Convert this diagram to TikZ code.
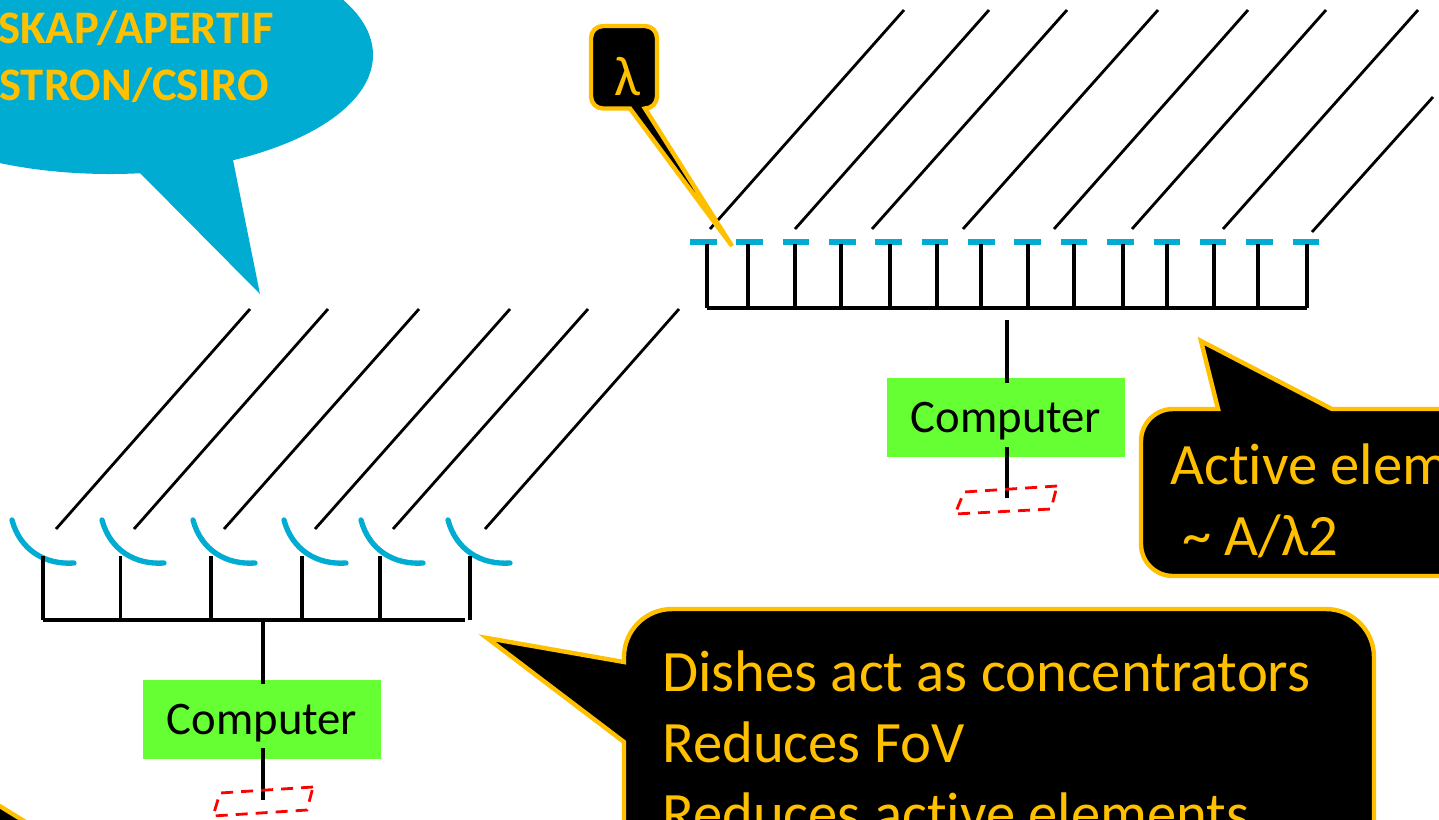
\documentclass[tikz,border=0pt]{standalone}
\usepackage{fontspec}
\setmainfont{Carlito}[Ligatures={NoCommon,TeX}]
\definecolor{gold}{RGB}{255,192,0}
\definecolor{dishblue}{RGB}{0,172,210}
\definecolor{compgreen}{RGB}{102,255,51}
\tikzset{
  wire/.style={black,line width=2.5pt},
  wave/.style={black,line width=2.1pt},
  dishline/.style={dishblue,line width=4pt,line cap=round},
  element/.style={dishblue,line width=4.4pt},
  computer/.style={fill=compgreen,minimum width=178.5pt,minimum height=59.25pt,inner sep=0pt,text height=23.2pt,text depth=0pt,font=\fontsize{35}{35}\selectfont},
  dashbox/.style={red,line width=2.1pt,dash pattern=on 9pt off 6pt},
  callout/.style={fill=black,draw=gold,line width=3.3pt,line join=miter},
  calltext/.style={text=gold,anchor=base west,inner sep=0pt,font=\fontsize{44}{44}\selectfont},
  bubbletext/.style={text=gold,anchor=base west,inner sep=0pt,font=\fontsize{35}{35}\selectfont\bfseries}
}
\begin{document}
\begin{tikzpicture}[x=0.75pt,y=-0.75pt]
\useasboundingbox (0,0) rectangle (1439,819);
\clip (0,0) rectangle (1439,819);
% blue speech bubble
\fill[dishblue] (110,55) ellipse [x radius=197.25pt,y radius=89.25pt];
\fill[dishblue] (140,173) -- (260,294) -- (233,160) -- cycle;
\node[bubbletext] (b1) at (-2,43) {SKAP/APERTIF};
\node[bubbletext] (b2) at (-1,100) {STRON/CSIRO};
% wavefronts, upper right
\foreach \t/\b [count=\i] in {904/710,989/795,1067/872,1158/963,1248/1054,1326/1132,1418/1223}{
  \coordinate (wt\i) at (\t,10);
  \coordinate (wb\i) at (\b,229);
  \draw[wave] (wt\i) -- (wb\i);
}
\coordinate (wt8) at (1433,97);
\coordinate (wb8) at (1312,232);
\draw[wave] (wt8) -- (wb8);
% wavefronts, lower left
\foreach \t/\b [count=\i] in {250/56,328/134,419/224,510/315,588/393,679/485}{
  \coordinate (vt\i) at (\t,309);
  \coordinate (vb\i) at (\b,529);
  \draw[wave] (vt\i) -- (vb\i);
}
% dishes and feeds
\coordinate (busL) at (43,620);
\coordinate (busR) at (465,620);
\foreach \d/\f [count=\i] in {0/43,90/120.5,181/211,272/302,349/380,436/470}{
  \draw[dishline] (12+\d,520) .. controls (20+\d,550) and (45+\d,565) .. (74+\d,563);
  \coordinate (ft\i) at (\f,556);
  \coordinate (fb\i) at (\f,620);
  \draw[wire] (ft\i) -- (fb\i);
}
\draw[wire] (busL) -- (busR);
% elements and feeds, upper right
\foreach \f [count=\i] in {707,748,795,841,890,937,981,1028,1074,1123,1167,1214,1258,1307}{
  \draw[element] ({690+46.35*(\i-1)},242) -- ++(26.5,0);
  \coordinate (et\i) at (\f,244);
  \coordinate (eb\i) at (\f,308);
  \draw[wire] (et\i) -- (eb\i);
}
\coordinate (topL) at (707,308);
\coordinate (topR) at (1307,308);
\draw[wire] (topL) -- (topR);
% computers
\node[computer] (comp1) at (262,719.5) {Computer};
\node[computer] (comp2) at (1006,417.5) {Computer};
\coordinate (c1a) at (263,620); \coordinate (c1b) at (263,684);
\coordinate (c1c) at (263,748); \coordinate (c1d) at (263,800);
\draw[wire] (c1a) -- (c1b);
\draw[wire] (c1c) -- (c1d);
\coordinate (c2a) at (1007,320); \coordinate (c2b) at (1007,383);
\coordinate (c2c) at (1007,447); \coordinate (c2d) at (1007,498);
\draw[wire] (c2a) -- (c2b);
\draw[wire] (c2c) -- (c2d);
% dashed parallelograms
\draw[dashbox] (313,787) -- (220,793) -- (213,816) -- (307,810) -- cycle;
\draw[dashbox] (1057,486) -- (964,492) -- (955,514) -- (1051,509) -- cycle;
% lambda callout
\draw[callout] (630,108.5) [rounded corners=9pt] -- (591,108.5) -- (591,26) -- (657,26) -- (657,108.5) [sharp corners] -- (645,108.5) -- (732,246) -- cycle;
\node[text=gold,inner sep=0pt,font=\fontsize{42}{42}\selectfont] (lam) at (627,77) {λ};
% element callout
\draw[callout] (1218,409) [rounded corners=24pt] -- (1141,409) -- (1141,576) -- (1480,576) -- (1480,409) [sharp corners] -- (1332,409) -- (1201,341) -- cycle;
\node[calltext] (t1) at (1170,484) {Active elem};
\node[calltext] (t2) at (1182,555) {\textasciitilde{} A/λ2};
% dish callout
\draw[callout] (624,662) [rounded corners=36pt] -- (624,609) -- (1374,609) -- (1374,900) -- (624,900) [sharp corners] -- (624,742) -- (487,638) -- cycle;
\node[calltext] (t3) at (662,691.5) {Dishes act as concentrators};
\node[calltext] (t4) at (662,762.5) {Reduces FoV};
\node[calltext] (t5) at (662,833) {Reduces active elements};
% corner callout tip
\draw[callout] (-10,800) -- (24,821) -- (-10,840) -- cycle;
\end{tikzpicture}
\end{document}
